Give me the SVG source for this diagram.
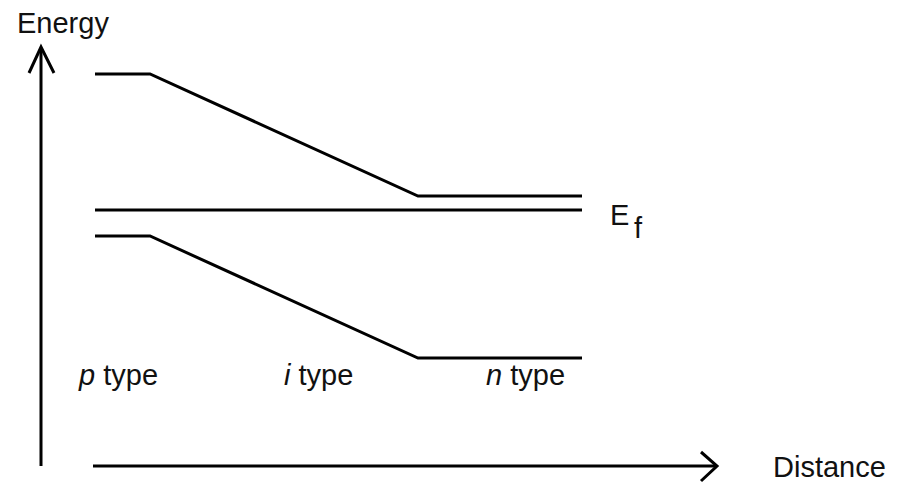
<svg xmlns="http://www.w3.org/2000/svg" width="904" height="486" viewBox="0 0 904 486">
<style>
.ln{fill:none;stroke:#000;stroke-width:3;stroke-linejoin:miter;stroke-linecap:butt}
.t{font-family:"Liberation Sans",Arial,sans-serif;font-size:29px;fill:#111}
</style>
<rect width="904" height="486" fill="#fff"/>
<g id="axes">
<path class="ln" d="M41,466 V48"/>
<path class="ln" d="M29,73 L41,47 L54,73"/>
<path class="ln" d="M93,466 H715"/>
<path class="ln" d="M701,452 L717,466 L701,481"/>
</g>
<g id="conduction-band"><path class="ln" d="M95,74 H150 L418,196 H582"/></g>
<g id="fermi-level"><path class="ln" d="M95,210 H582"/></g>
<g id="valence-band"><path class="ln" d="M95,236 H150 L418,358 H582"/></g>
<g id="labels">
<text class="t" x="17" y="33">Energy</text>
<text class="t" x="610" y="225" font-size="30">E</text>
<text class="t" x="634" y="238" font-size="26">f</text>
<text class="t" x="79" y="385"><tspan font-style="italic">p</tspan> type</text>
<text class="t" x="284" y="385"><tspan font-style="italic">i</tspan> type</text>
<text class="t" x="486" y="385"><tspan font-style="italic">n</tspan> type</text>
<text class="t" x="773" y="477">Distance</text>
</g>
</svg>
